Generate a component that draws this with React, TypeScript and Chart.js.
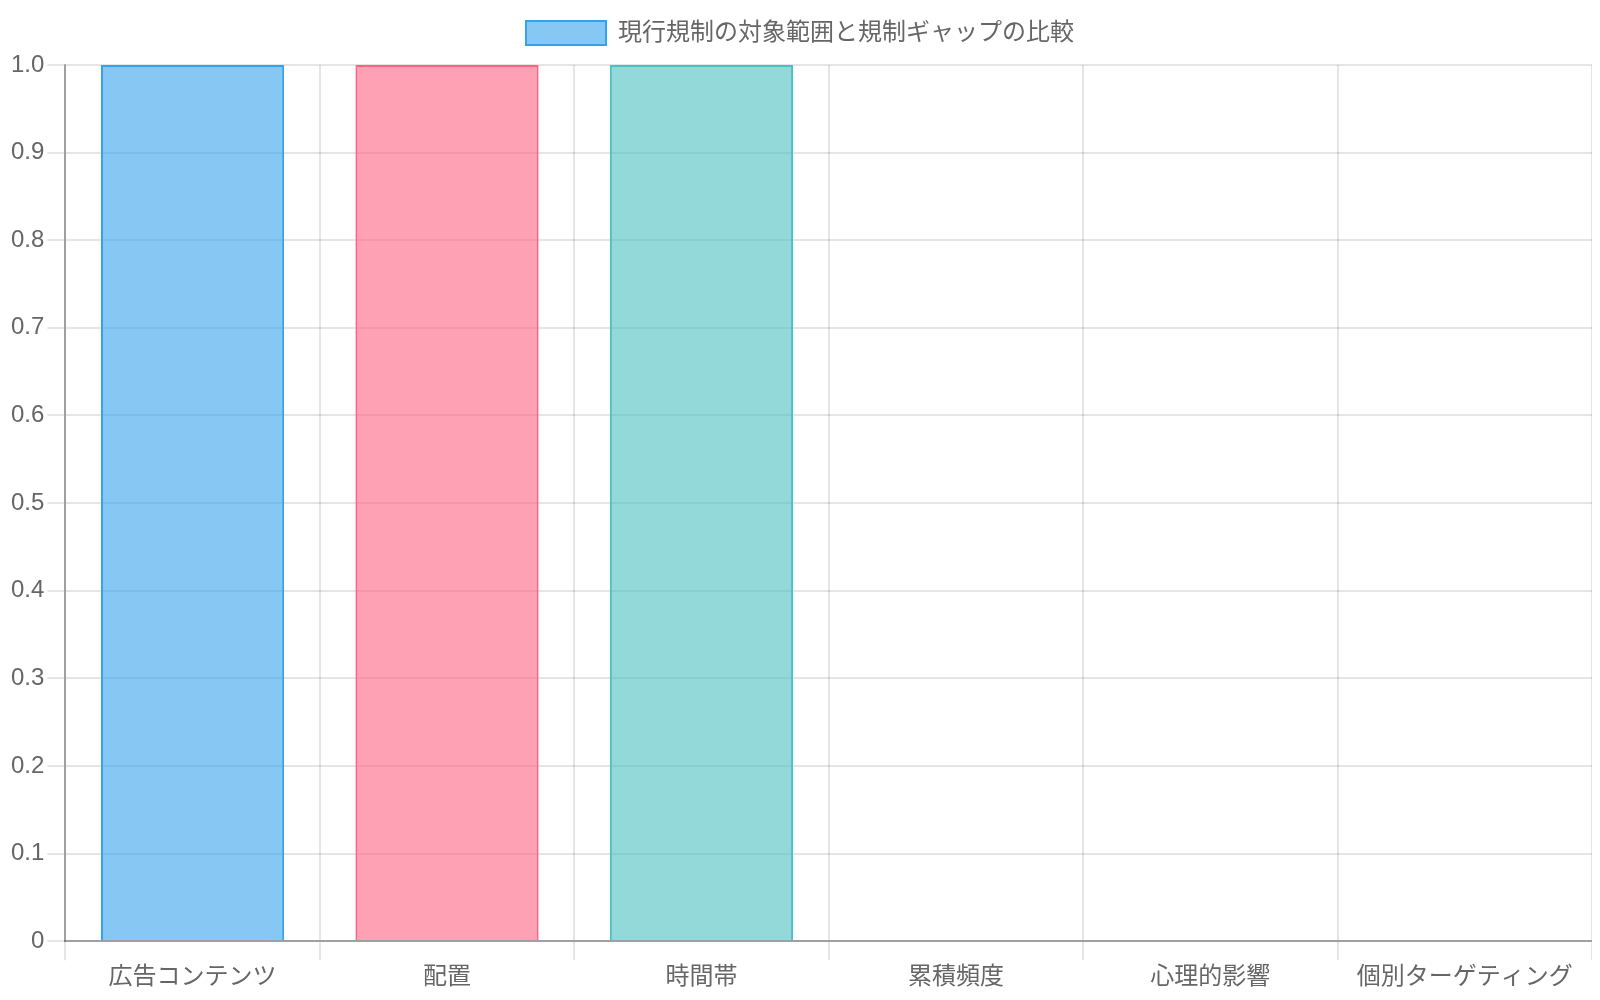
import React, { useEffect, useRef } from "react";
import { Chart, registerables, ChartConfiguration, Plugin } from "chart.js";

Chart.register(...registerables);

const categories = ["広告コンテンツ", "配置", "時間帯", "累積頻度", "心理的影響", "個別ターゲティング"];
const coverage = [1, 1, 1, 0, 0, 0];
const seriesLabel = "現行規制の対象範囲と規制ギャップの比較";
const fillColors = [
  "rgba(54, 162, 235, 0.6)",
  "rgba(255, 99, 132, 0.6)",
  "rgba(75, 192, 192, 0.6)",
  "rgba(255, 206, 86, 0.6)",
  "rgba(153, 102, 255, 0.6)",
  "rgba(255, 159, 64, 0.6)",
];
const lineColors = [
  "rgb(54, 162, 235)",
  "rgb(255, 99, 132)",
  "rgb(75, 192, 192)",
  "rgb(255, 206, 86)",
  "rgb(153, 102, 255)",
  "rgb(255, 159, 64)",
];

const FONT = "'Liberation Sans', Arial, 'Noto Sans CJK JP', sans-serif";

// a little extra room under the legend
const legendMargin: Plugin = {
  id: "legendMargin",
  beforeInit(chart) {
    const legend: any = chart.legend;
    if (!legend) return;
    const origFit = legend.fit;
    legend.fit = function () {
      origFit.bind(legend)();
      this.height += 10;
    };
  },
};

const App: React.FC = () => {
  const chartRef = useRef<HTMLCanvasElement>(null);
  const chartInstance = useRef<Chart | null>(null);

  useEffect(() => {
    if (!chartRef.current) return;
    const ctx = chartRef.current.getContext("2d");
    if (!ctx) return;
    document.body.style.overflow = "hidden";

    const config: ChartConfiguration = {
      type: "bar",
      data: {
        labels: categories,
        datasets: [
          {
            label: seriesLabel,
            data: coverage,
            backgroundColor: fillColors,
            borderColor: lineColors,
            borderWidth: 2,
          },
        ],
      },
      options: {
        responsive: true,
        maintainAspectRatio: false,
        animation: false,
        plugins: {
          legend: {
            display: true,
            position: "top",
            labels: {
              boxWidth: 80,
              boxHeight: 24,
              padding: 13,
              color: "#666",
              font: { family: FONT, size: 24 },
            },
          },
          tooltip: { enabled: false },
        },
        scales: {
          x: {
            grid: { color: "rgba(0,0,0,0.1)", lineWidth: 2, tickLength: 19 },
            border: { color: "rgba(0,0,0,0.3)", width: 2 },
            ticks: { color: "#666", font: { family: FONT, size: 24 } },
          },
          y: {
            min: 0,
            max: 1,
            grid: { color: "rgba(0,0,0,0.1)", lineWidth: 2, tickLength: 18 },
            border: { color: "rgba(0,0,0,0.3)", width: 2 },
            ticks: { stepSize: 0.1, color: "#666", font: { family: FONT, size: 24 } },
          },
        },
      },
      plugins: [legendMargin],
    };

    chartInstance.current = new Chart(ctx, config);
    return () => {
      chartInstance.current?.destroy();
      chartInstance.current = null;
    };
  }, []);

  return (
    <div style={{ position: "relative", width: "100%", height: "987px" }}>
      <canvas ref={chartRef} />
    </div>
  );
};

export default App;
